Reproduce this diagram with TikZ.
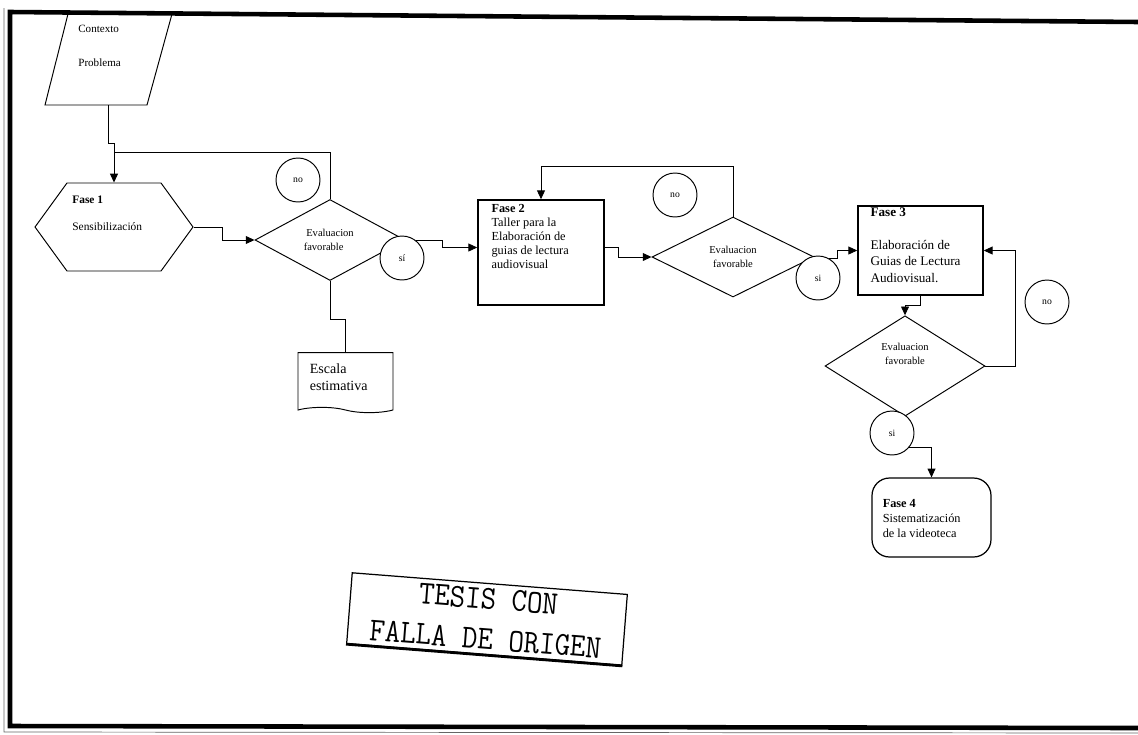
\documentclass[tikz,border=0pt]{standalone}
\usepackage{fontspec}
\setmainfont{Liberation Serif}
\usepackage{graphicx}
\usepackage{tikz}
\usetikzlibrary{arrows.meta, positioning, shapes.geometric, shapes.symbols, calc}

\tikzset{
  base/.style={draw, line width=0.55pt, inner sep=1pt},
  decision/.style={base, diamond, fill=white, font=\fontsize{6}{8}\selectfont, align=center},
  answer/.style={base, circle, fill=white, minimum size=0.88cm, font=\fontsize{5.5}{6}\selectfont},
  process/.style={base, rectangle, line width=0.9pt},
  txt/.style={inner sep=0pt, align=left},
  link/.style={line width=0.5pt},
  arr/.style={-{Triangle[length=5pt,width=4.5pt]}}
}

\begin{document}
\begin{tikzpicture}[x=0.02cm, y=-0.02cm]
            \useasboundingbox (0,0) rectangle (1138,734);
            % Frame
            \draw[line width=2.6pt] (1138,22) -- (10,12) -- (10,726) -- (1138,728);
            \draw[line width=0.4pt, black!60] (4,8) -- (4,732) -- (1138,733);
            
            % Start
            \draw[line width=0.55pt] (68,14) -- (172,14) -- (147,105) -- (45,105) -- cycle;
            \coordinate (ctx) at (108,105);
            \node[txt, font=\fontsize{6.3}{19}\selectfont, anchor=north west] (ctxt) at (78,25) {Contexto\\Problema};
            
            % Fase 1
            \node[base, signal, signal to=west and east, signal pointer angle=108,
                  minimum width=3.16cm, minimum height=1.76cm] (f1) at (114,227) {\strut};
            \node[txt, font=\fontsize{6.5}{15.3}\selectfont, anchor=north west] (f1t) at ([xshift=-0.84cm,yshift=0.62cm]f1.center) {\textbf{Fase 1}\\Sensibilización};
            
            \node[decision, minimum width=3cm, minimum height=1.5cm] (d1) at (330,240) {Evaluacion\\favorable\hspace*{1.2em}};
            \node[answer] (no1) at (298,180) {no};
            \node[answer] (si1) at (402,258) {sí};
            
            \node[base, tape, tape bend top=none, tape bend bottom=out and in, tape bend height=3pt,
                  minimum width=1.9cm, minimum height=1.2cm] (esc) at (345.5,380) {};
            \node[txt, font=\fontsize{8}{10}\selectfont, below right=0.22cm and 0.24cm of esc.north west] (esct) {Escala\\estimativa};
            
            % Fase 2
            \node[process, minimum width=2.52cm, minimum height=2.1cm] (f2) at (541,252.5) {};
            \node[txt, font=\fontsize{7}{7.9}\selectfont, below right=0.1cm and 0.28cm of f2.north west] (f2t)
                {\textbf{Fase 2}\\Taller para la\\Elaboración de\\guias de lectura\\audiovisual};
            
            \node[decision, minimum width=3.24cm, minimum height=1.6cm] (d2) at (733,257) {Evaluacion\\favorable};
            \node[answer] (no2) at (675,195) {no};
            \node[answer] (si2) at (818,278) {si};
            
            % Fase 3
            \node[process, minimum width=2.5cm, minimum height=1.78cm] (f3) at (920.5,250.5) {};
            \node[txt, font=\fontsize{7.5}{9.4}\selectfont, below right=0.04cm and 0.26cm of f3.north west] (f3t)
                {\textbf{Fase 3}\\[9.4pt]Elaboración de\\Guias de Lectura\\Audiovisual.};
            
            \node[decision, minimum width=3.2cm, minimum height=1.96cm] (d3) at (905,366) {Evaluacion\\favorable\\[6pt]};
            \node[answer] (no3) at (1047,302) {no};
            \node[answer] (si3) at (892,433) {si};
            
            % Fase 4
            \node[process, line width=0.7pt, rounded corners=0.35cm, minimum width=2.38cm, minimum height=1.58cm] (f4) at (931.5,517.5) {};
            \node[txt, font=\fontsize{7}{8.5}\selectfont, below right=0.44cm and 0.22cm of f4.north west] (f4t)
                {\textbf{Fase 4}\\Sistematización\\de la videoteca};
            
            % Connectors
            \coordinate (j1) at (114,152);
            \draw[link,arr] (ctx) -- ++(0,38) -| (f1.north);
            \draw[link] (d1.north) |- (j1);
            \draw[link,arr] (f1.east) -- ++(29,0) |- (d1.west);
            \draw[link,arr] (si1.50) -- ++(26,0) |- ([yshift=0.1cm]f2.west);
            \draw[link] (d1.south) -- ++(0,38) -| (esc.north);
            \draw[link,arr] (d2.north) -- ++(0,-50) -| (f2.north);
            \draw[link,arr] ([yshift=0.1cm]f2.east) -- ++(14,0) |- (d2.west);
            \draw[link,arr] (si2.60) -- ++(8,0) |- (f3.west);
            \draw[link,arr] (f3.south) -- ++(0,10) -| (d3.north);
            \draw[link,arr] (d3.east) -- ++(30,0) |- (f3.east);
            \draw[link,arr] (si3.-40) -| (f4.north);
            
            % Stamp
            \node[draw, line width=0.7pt, rotate=-4.5, minimum width=5.52cm, minimum height=1.42cm, inner sep=0pt,
                  align=center, font=\fontsize{19}{23}\selectfont\ttfamily] (stamp) at (487,619)
                {\scalebox{0.9}[1]{TESIS CON}\\\scalebox{0.9}[1]{FALLA DE ORIGEN}};
            \draw[line width=1.6pt] (stamp.south west) -- (stamp.south east);
\end{tikzpicture}
\end{document}
